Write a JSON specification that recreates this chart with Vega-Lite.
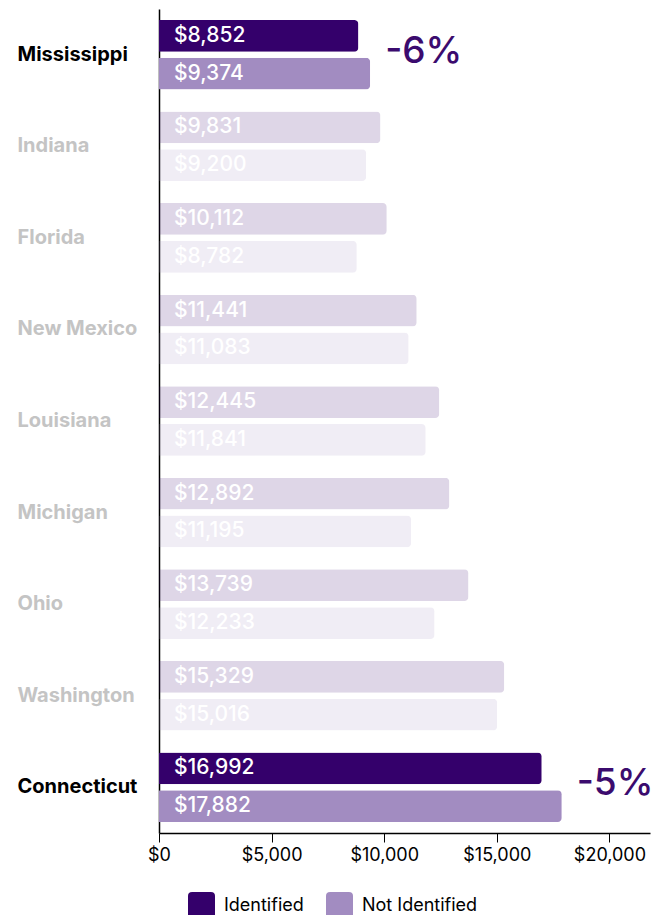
{
  "$schema": "https://vega.github.io/schema/vega-lite/v6.json",
  "autosize": "none",
  "padding": {"left": 159, "top": 9, "right": 10, "bottom": 82},
  "width": 491,
  "height": 824,
  "config": {"font": "Inter", "view": {"stroke": null}},
  "data": {"values": [
    {"state": "Mississippi", "group": "Identified", "value": 8852, "highlight": true},
    {"state": "Mississippi", "group": "Not Identified", "value": 9374, "highlight": true, "pct": "-6%"},
    {"state": "Indiana", "group": "Identified", "value": 9831, "highlight": false},
    {"state": "Indiana", "group": "Not Identified", "value": 9200, "highlight": false},
    {"state": "Florida", "group": "Identified", "value": 10112, "highlight": false},
    {"state": "Florida", "group": "Not Identified", "value": 8782, "highlight": false},
    {"state": "New Mexico", "group": "Identified", "value": 11441, "highlight": false},
    {"state": "New Mexico", "group": "Not Identified", "value": 11083, "highlight": false},
    {"state": "Louisiana", "group": "Identified", "value": 12445, "highlight": false},
    {"state": "Louisiana", "group": "Not Identified", "value": 11841, "highlight": false},
    {"state": "Michigan", "group": "Identified", "value": 12892, "highlight": false},
    {"state": "Michigan", "group": "Not Identified", "value": 11195, "highlight": false},
    {"state": "Ohio", "group": "Identified", "value": 13739, "highlight": false},
    {"state": "Ohio", "group": "Not Identified", "value": 12233, "highlight": false},
    {"state": "Washington", "group": "Identified", "value": 15329, "highlight": false},
    {"state": "Washington", "group": "Not Identified", "value": 15016, "highlight": false},
    {"state": "Connecticut", "group": "Identified", "value": 16992, "highlight": true},
    {"state": "Connecticut", "group": "Not Identified", "value": 17882, "highlight": true, "pct": "-5%"}
  ]},
  "encoding": {
    "y": {
      "field": "state", "type": "nominal", "sort": null,
      "scale": {"paddingInner": 0.24, "paddingOuter": 0.12},
      "axis": {
        "title": null, "ticks": false, "labelAlign": "left", "labelPadding": 142,
        "labelFontSize": 20, "labelFontWeight": "bold",
        "labelColor": {"condition": {"test": "datum.value === 'Mississippi' || datum.value === 'Connecticut'", "value": "#000000"}, "value": "#c4c4c4"},
        "domainColor": "#000000", "domainWidth": 1.5
      }
    }
  },
  "layer": [
    {
      "mark": {"type": "bar", "cornerRadiusEnd": 4},
      "encoding": {
        "x": {
          "field": "value", "type": "quantitative",
          "scale": {"domain": [0, 21800], "nice": false},
          "axis": {
            "title": null, "grid": false, "values": [0, 5000, 10000, 15000, 20000], "format": "$,.0f",
            "labelFontSize": 18, "labelColor": "#000000", "tickColor": "#000000", "tickSize": 9,
            "domainColor": "#000000", "domainWidth": 1.5, "labelPadding": 4, "labelFlush": false
          }
        },
        "yOffset": {"field": "group", "sort": ["Identified", "Not Identified"], "scale": {"paddingInner": 0.16, "paddingOuter": 0}},
        "color": {
          "field": "group", "type": "nominal",
          "scale": {"domain": ["Identified", "Not Identified"], "range": ["#34006b", "#a28cc1"]},
          "legend": {
            "title": null, "orient": "none", "legendX": 29, "legendY": 883, "direction": "horizontal",
            "symbolType": "M-0.7,-1H0.7Q1,-1,1,-0.7V0.7Q1,1,0.7,1H-0.7Q-1,1,-1,0.7V-0.7Q-1,-1,-0.7,-1Z",
            "symbolSize": 729, "symbolOpacity": 1, "symbolStrokeWidth": 0,
            "labelFontSize": 18, "labelColor": "#000000", "labelOffset": 9, "columnPadding": 22
          }
        },
        "opacity": {"condition": {"test": "datum.highlight", "value": 1}, "value": 0.16}
      }
    },
    {
      "mark": {"type": "text", "align": "left", "baseline": "middle", "dx": 15, "color": "#ffffff", "fontSize": 21, "fontWeight": 500},
      "encoding": {
        "x": {"datum": 0, "type": "quantitative"},
        "yOffset": {"field": "group", "sort": ["Identified", "Not Identified"], "scale": {"paddingInner": 0.16, "paddingOuter": 0}},
        "text": {"field": "value", "type": "quantitative", "format": "$,.0f"}
      }
    },
    {
      "transform": [{"filter": "datum.pct"}],
      "mark": {"type": "text", "align": "left", "baseline": "middle", "dx": 15, "dy": -3, "color": "#3b0b6e", "fontSize": 37, "fontWeight": 500},
      "encoding": {
        "x": {"field": "value", "type": "quantitative"},
        "text": {"field": "pct"}
      }
    }
  ]
}
